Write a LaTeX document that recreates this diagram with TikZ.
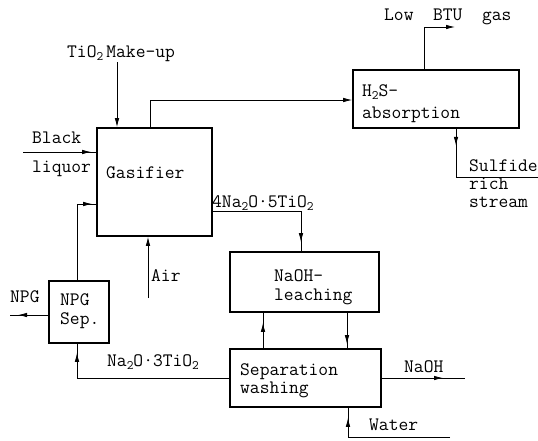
\documentclass[tikz,border=0pt]{standalone}
\usepackage{fontspec}
\usetikzlibrary{arrows.meta,decorations.markings,calc}
\newcommand\sbs[1]{\raisebox{-0.45ex}{\fontsize{13}{13}\selectfont #1}}
\begin{document}
\begin{tikzpicture}[x=1pt,y=-1pt,font=\ttfamily\fontsize{19}{20}\selectfont\addfontfeatures{FakeBold=1.4},
  box/.style={draw,line width=1.6pt,inner sep=0pt},
  conn/.style={line width=0.8pt},
  tip/.style={-{Latex[length=9pt,width=4.5pt]}},
  arrowat/.style={postaction={decorate},decoration={markings,mark=at position #1 with {\arrow{Latex[length=9pt,width=4.5pt]}}}},
  lbl/.style={anchor=base west,inner sep=0pt}]
\useasboundingbox (0,0) rectangle (538,440);
% boxes
\node[box,minimum width=115pt,minimum height=108pt] (gas) at (154.5,182) {};
\node[box,minimum width=166pt,minimum height=58pt] (h2s) at (436,99) {};
\node[box,minimum width=60pt,minimum height=62pt] (npg) at (79,312) {};
\node[box,minimum width=149pt,minimum height=60pt] (leach) at (304.5,282) {};
\node[box,minimum width=151pt,minimum height=58pt] (sep) at (305.5,378) {};
% texts in boxes
\node[lbl] (tgas) at (106,178) {Gasifier};
\node[lbl] (th2sa) at (362,96) {H\sbs{2}S–};
\node[lbl] (th2sb) at (362,118) {absorption};
\node[lbl] (tnpga) at (60,305) {NPG};
\node[lbl] (tnpgb) at (60,324) {Sep.};
\node[lbl] (tleacha) at (274,281) {NaOH–};
\node[lbl] (tleachb) at (274,300) {leaching};
\node[lbl] (tsepa) at (240,375) {Separation};
\node[lbl] (tsepb) at (240,393) {washing};
% stream labels
\node[lbl] (ltio) at (67,57) {TiO\sbs{2}\,Make–up};
\node[lbl] (llow) at (384,20) {Low\ \ BTU\ \ gas};
\node[lbl] (lblack) at (32,143) {Black};
\node[lbl] (lliq) at (32,172) {liquor};
\node[lbl] (lsulf) at (469,171) {Sulfide};
\node[lbl] (lrich) at (469,189) {rich};
\node[lbl] (lstream) at (469,207) {stream};
\node[lbl] (lna5) at (212,207) {4Na\sbs{2}O·5TiO\sbs{2}};
\node[lbl] (lair) at (151,281) {Air};
\node[lbl] (lnpg) at (10,302) {NPG};
\node[lbl] (lna3) at (107,366) {Na\sbs{2}O·3TiO\sbs{2}};
\node[lbl] (lnaoh) at (404,372) {NaOH};
\node[lbl] (lwater) at (369,430) {Water};
% coordinates
\coordinate (tio) at (117,62);
\coordinate (bl) at (23,152);
\coordinate (g1) at (150,100);
\coordinate (lb) at (424,27);
\coordinate (lbe) at (455,27);
\coordinate (sf) at (456,177);
\coordinate (sfe) at (538,177);
\coordinate (na5) at (301,211);
\coordinate (air) at (148,298);
\coordinate (n1) at (77,204);
\coordinate (n2) at (10,315);
\coordinate (n3) at (77,378);
\coordinate (u) at (263,330);
\coordinate (d) at (347,330);
\coordinate (no) at (465,378);
\coordinate (w) at (450,437);
\coordinate (w2) at (348,437);
% connectors
\draw[conn,tip] (tio) -- (tio |- gas.north);
\draw[conn,arrowat=-5pt] (bl) -- (bl -| gas.west);
\draw[conn,tip] (g1 |- gas.north) -- (g1) -- (g1 -| h2s.west);
\draw[conn,tip] (lb |- h2s.north) -- (lb) -- (lbe);
\draw[conn,arrowat=17pt] (sf |- h2s.south) -- (sf) -- (sfe);
\draw[conn,arrowat=-9pt] (na5 -| gas.east) -- (na5) -- (na5 |- leach.north);
\draw[conn,tip] (air) -- (air |- gas.south);
\draw[conn,arrowat=-4pt] (n1 |- npg.north) -- (n1) -- (n1 -| gas.west);
\draw[conn,arrowat=-8pt] (n2 -| npg.west) -- (n2);
\draw[conn,arrowat=-9pt] (n3 -| sep.west) -- (n3) -- (n3 |- npg.south);
\draw[conn,arrowat=-10pt] (u |- sep.north) -- (u |- leach.south);
\draw[conn,arrowat=-4pt] (d |- leach.south) -- (d |- sep.north);
\draw[conn,arrowat=-22pt] (no -| sep.east) -- (no);
\draw[conn,arrowat=-10pt] (w) -- (w2) -- (w2 |- sep.south);
\end{tikzpicture}
\end{document}
